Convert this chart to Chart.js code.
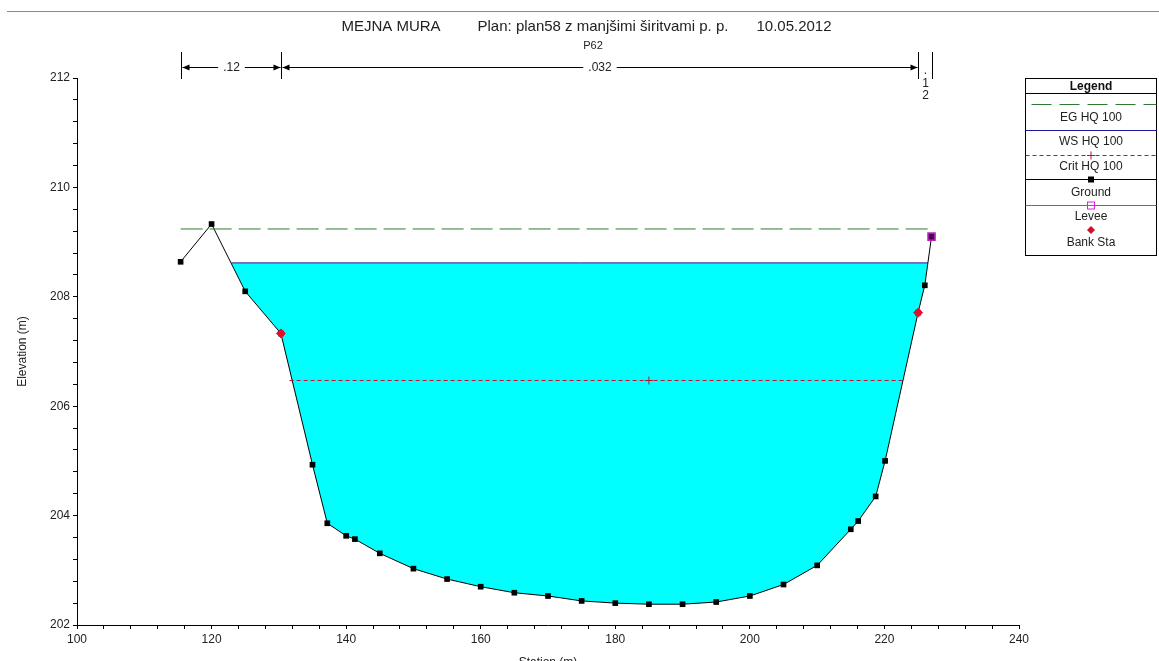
<!DOCTYPE html>
<html lang="sl">
<head>
    <meta charset="UTF-8">
    <title>MEJNA MURA - P62</title>
    <script src="https://cdn.jsdelivr.net/npm/chart.js"></script>
    <style>
        body {
            margin: 0;
            padding: 0;
            background-color: #fff;
        }

        .chart-box {
            position: relative;
            width: 1159px;
            height: 661px;
        }
    </style>
</head>
<body>
    <div class="chart-box">
        <canvas id="xsChart"></canvas>
    </div>

    <script>
        // Cross section P62 - ground survey points (station m, elevation m)
        const groundStation = [115.4, 120.0, 125.0, 130.3, 135.0, 137.2, 140.0, 141.3, 145.0, 150.0,
            155.0, 160.0, 165.0, 170.0, 175.0, 180.0, 185.0, 190.0, 195.0, 200.0,
            205.0, 210.0, 215.0, 216.1, 218.7, 220.1, 225.0, 226.0, 227.0];
        const groundElev = [208.64, 209.33, 208.10, 207.33, 204.93, 203.86, 203.63, 203.57, 203.31, 203.03,
            202.84, 202.70, 202.59, 202.53, 202.44, 202.40, 202.38, 202.38, 202.42, 202.53,
            202.74, 203.09, 203.75, 203.90, 204.35, 205.00, 207.71, 208.21, 209.10];

        // Bank stations and levee
        const bankStation = [130.3, 225.0];
        const bankElev = [207.33, 207.71];
        const leveeStation = [227.0];
        const leveeElev = [209.10];

        // Water profiles for HQ 100
        const egStation = [115.4, 226.7];
        const egElev = [209.24, 209.24];
        const wsStation = [122.94, 226.45];
        const wsElev = [208.62, 208.62];
        const critStation = [131.6, 185.0, 223.0];
        const critElev = [206.47, 206.47, 206.47];

        // Manning's n along the section
        const nStations = [115.4, 130.3, 225.0, 227.0];
        const nValues = ['.12', '.032', '.12'];

        // Axis ticks
        const xMin = 100, xMax = 240, xStep = 4, xLabelEvery = 20;
        const yMin = 202, yMax = 212, yStep = 0.4, yLabelEvery = 2;

        const FONT = 'Arial, "Liberation Sans", sans-serif';

        function toPoints(xs, ys) {
            return xs.map((x, i) => ({ x: x, y: ys[i] }));
        }

        function isMultiple(v, m) {
            const q = v / m;
            return Math.abs(q - Math.round(q)) < 1e-6;
        }

        function drawArrow(ctx, x, y, dir) {
            // dir = -1 points left, 1 points right
            ctx.beginPath();
            ctx.moveTo(x, y);
            ctx.lineTo(x - dir * 7, y - 3);
            ctx.lineTo(x - dir * 7, y + 3);
            ctx.closePath();
            ctx.fill();
        }

        // Header, n-value bars and legend box drawn on top of the chart
        const decorations = {
            id: 'decorations',
            afterDraw(chart) {
                const ctx = chart.ctx;
                const xs = chart.scales.x;
                ctx.save();

                // top rule
                ctx.strokeStyle = '#8a8a8a';
                ctx.lineWidth = 1;
                ctx.beginPath();
                ctx.moveTo(7, 11.5);
                ctx.lineTo(1159, 11.5);
                ctx.stroke();

                // title
                ctx.fillStyle = '#222';
                ctx.textBaseline = 'middle';
                ctx.textAlign = 'center';
                ctx.font = '15px ' + FONT;
                ctx.fillText('MEJNA MURA', 391, 27);
                ctx.fillText('Plan: plan58 z manjšimi širitvami p. p.', 603, 27);
                ctx.fillText('10.05.2012', 794, 27);
                ctx.font = '11px ' + FONT;
                ctx.fillText('P62', 593, 46);

                // Manning's n values
                ctx.strokeStyle = '#000';
                ctx.fillStyle = '#000';
                ctx.font = '12px ' + FONT;
                const lineY = 67.5;
                nStations.forEach(function (s) {
                    const px = Math.round(xs.getPixelForValue(s)) + 0.5;
                    ctx.beginPath();
                    ctx.moveTo(px, 52);
                    ctx.lineTo(px, 79);
                    ctx.stroke();
                });
                for (let i = 0; i < nValues.length; i++) {
                    const x1 = Math.round(xs.getPixelForValue(nStations[i])) + 0.5;
                    const x2 = Math.round(xs.getPixelForValue(nStations[i + 1])) + 0.5;
                    const mid = (x1 + x2) / 2;
                    if (x2 - x1 > 40) {
                        const tw = ctx.measureText(nValues[i]).width / 2 + 5;
                        ctx.beginPath();
                        ctx.moveTo(x1 + 1, lineY);
                        ctx.lineTo(mid - tw, lineY);
                        ctx.moveTo(mid + tw, lineY);
                        ctx.lineTo(x2 - 1, lineY);
                        ctx.stroke();
                        drawArrow(ctx, x1 + 1, lineY, -1);
                        drawArrow(ctx, x2 - 1, lineY, 1);
                        ctx.fillStyle = '#222';
                        ctx.fillText(nValues[i], mid, lineY);
                        ctx.fillStyle = '#000';
                    } else {
                        // too narrow: stack the characters
                        const chars = nValues[i].split('');
                        ctx.fillStyle = '#222';
                        chars.forEach(function (c, k) {
                            ctx.fillText(c, mid, 71 + k * 12.5);
                        });
                        ctx.fillStyle = '#000';
                    }
                }

                // legend box
                const lx = 1025.5, ly = 78.5, lw = 131, lh = 177;
                const cx = lx + lw / 2;
                ctx.fillStyle = '#fff';
                ctx.fillRect(lx, ly, lw, lh);
                ctx.strokeStyle = '#000';
                ctx.strokeRect(lx, ly, lw, lh);
                ctx.fillStyle = '#111';
                ctx.font = 'bold 12px ' + FONT;
                ctx.fillText('Legend', cx, 86.5);
                ctx.beginPath();
                ctx.moveTo(lx, 93.5);
                ctx.lineTo(lx + lw, 93.5);
                ctx.stroke();

                ctx.font = '12px ' + FONT;
                const labels = ['EG HQ 100', 'WS HQ 100', 'Crit HQ 100', 'Ground', 'Levee', 'Bank Sta'];
                const labelY = [118, 142, 167, 193, 217, 243];
                labels.forEach(function (t, i) {
                    ctx.fillStyle = '#222';
                    ctx.fillText(t, cx, labelY[i]);
                });

                // EG sample
                ctx.strokeStyle = '#2f7a2f';
                ctx.setLineDash([20, 8]);
                ctx.beginPath();
                ctx.moveTo(lx + 6, 104.5);
                ctx.lineTo(lx + lw, 104.5);
                ctx.stroke();
                // WS sample
                ctx.setLineDash([]);
                ctx.strokeStyle = '#1a1a9c';
                ctx.beginPath();
                ctx.moveTo(lx, 130.5);
                ctx.lineTo(lx + lw, 130.5);
                ctx.stroke();
                // Crit sample
                ctx.strokeStyle = '#c0102f';
                ctx.setLineDash([4, 3]);
                ctx.beginPath();
                ctx.moveTo(lx, 155.5);
                ctx.lineTo(lx + lw, 155.5);
                ctx.stroke();
                ctx.setLineDash([]);
                ctx.beginPath();
                ctx.moveTo(cx, 151.5);
                ctx.lineTo(cx, 159.5);
                ctx.moveTo(cx - 4, 155.5);
                ctx.lineTo(cx + 4, 155.5);
                ctx.stroke();
                // Ground sample
                ctx.strokeStyle = '#000';
                ctx.beginPath();
                ctx.moveTo(lx, 179.5);
                ctx.lineTo(lx + lw, 179.5);
                ctx.stroke();
                ctx.fillStyle = '#000';
                ctx.fillRect(cx - 3, 176.5, 6, 6);
                // Levee sample
                ctx.strokeStyle = '#e020e0';
                ctx.beginPath();
                ctx.moveTo(lx, 205.5);
                ctx.lineTo(lx + lw, 205.5);
                ctx.stroke();
                ctx.strokeRect(cx - 3.5, 202, 7, 7);
                // Bank sample
                ctx.fillStyle = '#d0102a';
                ctx.beginPath();
                ctx.moveTo(cx, 226);
                ctx.lineTo(cx + 4, 230);
                ctx.lineTo(cx, 234);
                ctx.lineTo(cx - 4, 230);
                ctx.closePath();
                ctx.fill();

                ctx.restore();
            }
        };

        const ctx = document.getElementById('xsChart').getContext('2d');
        const xsChart = new Chart(ctx, {
            type: 'line',
            data: {
                datasets: [
                    {
                        label: 'Ground',
                        data: toPoints(groundStation, groundElev),
                        borderColor: '#000',
                        borderWidth: 1,
                        backgroundColor: '#000',
                        pointStyle: 'rect',
                        pointRadius: 4,
                        pointBorderWidth: 0,
                        fill: false,
                        order: 2
                    },
                    {
                        label: 'WS HQ 100',
                        data: toPoints(wsStation, wsElev),
                        borderColor: '#1a1a9c',
                        borderWidth: 1,
                        pointRadius: 0,
                        fill: { target: 0, above: '#00ffff', below: 'rgba(0,0,0,0)' },
                        order: 3
                    },
                    {
                        label: 'EG HQ 100',
                        data: toPoints(egStation, egElev),
                        borderColor: '#2f7a2f',
                        borderWidth: 1,
                        borderDash: [22, 7],
                        pointRadius: 0,
                        fill: false,
                        order: 1
                    },
                    {
                        label: 'Crit HQ 100',
                        data: toPoints(critStation, critElev),
                        borderColor: '#c0102f',
                        borderWidth: 1,
                        borderDash: [4, 3],
                        pointStyle: 'cross',
                        pointRadius: [0, 4, 0],
                        pointBorderColor: '#c0102f',
                        fill: false,
                        order: 1
                    },
                    {
                        label: 'Bank Sta',
                        data: toPoints(bankStation, bankElev),
                        showLine: false,
                        pointStyle: 'rectRot',
                        pointRadius: 4.5,
                        backgroundColor: '#e0102a',
                        borderColor: '#e0102a',
                        order: 0
                    },
                    {
                        label: 'Levee',
                        data: toPoints(leveeStation, leveeElev),
                        showLine: false,
                        pointStyle: 'rect',
                        pointRadius: 5,
                        pointBorderWidth: 1.5,
                        backgroundColor: 'rgba(80,0,90,0.9)',
                        borderColor: '#c020c0',
                        order: 0
                    }
                ]
            },
            options: {
                responsive: true,
                maintainAspectRatio: false,
                animation: false,
                layout: {
                    padding: { top: 78, right: 140, left: 0, bottom: 0 }
                },
                plugins: {
                    legend: { display: false },
                    tooltip: { enabled: false }
                },
                scales: {
                    x: {
                        type: 'linear',
                        min: xMin,
                        max: xMax,
                        afterFit: function (scale) { scale.height = 36; },
                        border: { display: true, color: '#000' },
                        grid: { drawOnChartArea: false, drawTicks: true, tickLength: 4, color: '#000' },
                        ticks: {
                            stepSize: xStep,
                            autoSkip: false,
                            maxRotation: 0,
                            color: '#222',
                            font: { family: FONT, size: 12 },
                            callback: function (v) { return isMultiple(v, xLabelEvery) ? Math.round(v) : ''; }
                        },
                        title: {
                            display: true,
                            text: 'Station (m)',
                            color: '#222',
                            font: { family: FONT, size: 12 },
                            padding: { top: 0, bottom: -9 }
                        }
                    },
                    y: {
                        type: 'linear',
                        min: yMin,
                        max: yMax,
                        afterFit: function (scale) { scale.width = 77; },
                        border: { display: true, color: '#000' },
                        grid: { drawOnChartArea: false, drawTicks: true, tickLength: 4, color: '#000' },
                        ticks: {
                            stepSize: yStep,
                            autoSkip: false,
                            color: '#222',
                            font: { family: FONT, size: 12 },
                            callback: function (v) { return isMultiple(v, yLabelEvery) ? Math.round(v) : ''; }
                        },
                        title: {
                            display: true,
                            text: 'Elevation (m)',
                            color: '#222',
                            font: { family: FONT, size: 12 },
                            padding: { top: 15, bottom: 0 }
                        }
                    }
                }
            },
            plugins: [decorations]
        });
    </script>
</body>
</html>
